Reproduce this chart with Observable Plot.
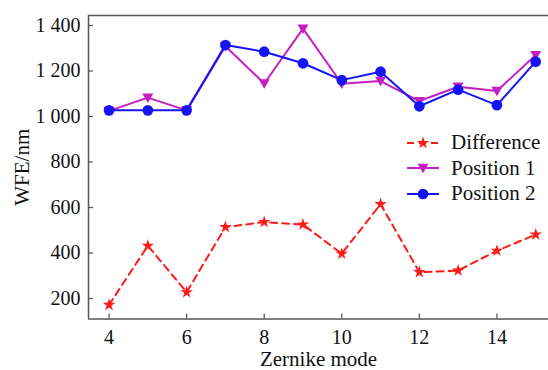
<!DOCTYPE html>
<html>
<head>
<meta charset="utf-8">
<script src="https://cdn.jsdelivr.net/npm/d3@7"></script>
<script src="https://cdn.jsdelivr.net/npm/@observablehq/plot@0.6"></script>
<style>
  html, body { margin: 0; padding: 0; background: #fff; }
  #wrap { position: relative; width: 548px; height: 370px; overflow: hidden; font-family: "Liberation Serif", "Times New Roman", serif; }
  #chart svg { font-family: "Liberation Serif", "Times New Roman", serif !important; font-size: 20px !important; }
  #legend { position: absolute; left: 405px; top: 130px; font-size: 21px; color: #111; }
  #legend .row { display: flex; align-items: center; height: 25.5px; }
  #legend svg { margin-right: 10px; }
</style>
</head>
<body>
<div id="wrap"><div id="chart"></div><div id="legend"></div></div>
<script>
// Zernike modes on the x axis
const modes = [4, 5, 6, 7, 8, 9, 10, 11, 12, 13, 14, 15];
// Wavefront error (nm) per mode
const difference = [172, 432, 228, 514, 536, 525, 397, 615, 316, 323, 410, 481];
const position1  = [1025, 1083, 1027, 1309, 1145, 1386, 1144, 1156, 1068, 1131, 1112, 1270];
const position2  = [1027, 1027, 1027, 1314, 1285, 1234, 1160, 1197, 1045, 1118, 1050, 1241];

const seriesNames = ["Difference", "Position 1", "Position 2"];
const yTicks = [200, 400, 600, 800, 1000, 1200, 1400];
const xTicks = [4, 6, 8, 10, 12, 14];

const xDomain = [3.47, 15.33];
const yDomain = [110, 1444];

const colors = { "Difference": "#ff1a1a", "Position 1": "#c41ec4", "Position 2": "#1414f5" };

// downward-pointing triangle symbol
const triangleDown = {
  draw(context, size) {
    const r = Math.sqrt(size / 1.3);
    context.moveTo(-r, -r * 0.75);
    context.lineTo(r, -r * 0.75);
    context.lineTo(0, r * 0.95);
    context.closePath();
  }
};
const symbols = { "Difference": d3.symbolStar, "Position 1": triangleDown, "Position 2": d3.symbolCircle };
const symbolSizes = { "Difference": 48, "Position 1": 40, "Position 2": 90 };

const rows = [];
seriesNames.forEach((name, s) => {
  const vals = [difference, position1, position2][s];
  modes.forEach((m, i) => rows.push({ series: name, mode: m, value: vals[i] }));
});

const fmt = d => d >= 1000 ? String(d).replace(/(\d)(\d{3})$/, "$1 $2") : String(d);

const axisColor = "#555";
// inward tick lengths in data units
const xTickLen = 5 / (460 / (xDomain[1] - xDomain[0]));
const yTickLen = 5 / (303.5 / (yDomain[1] - yDomain[0]));

const seriesMarks = seriesNames.flatMap(name => {
  const data = rows.filter(r => r.series === name);
  return [
    Plot.line(data, {
      x: "mode", y: "value", stroke: colors[name], strokeWidth: 2,
      strokeDasharray: name === "Difference" ? "7,5" : null
    }),
    Plot.dot(data, {
      x: "mode", y: "value", fill: colors[name], stroke: "none",
      symbol: () => symbols[name], r: Math.sqrt(symbolSizes[name] / Math.PI)
    })
  ];
});

const chart = Plot.plot({
  width: 548,
  height: 370,
  marginLeft: 88,
  marginRight: 0,
  marginTop: 15,
  marginBottom: 51.5,
  style: "font-family: 'Liberation Serif', 'Times New Roman', serif; font-size: 20px; color: #111; background: #fff;",
  x: { domain: xDomain, ticks: xTicks, tickSize: 0, tickPadding: 11, label: null },
  y: { domain: yDomain, ticks: yTicks, tickSize: 0, tickPadding: 8, tickFormat: fmt, label: null },
  symbol: { type: "identity" },
  marks: [
    // frame: top, bottom and left edges
    Plot.ruleY([yDomain[0], yDomain[1]], { stroke: axisColor, strokeWidth: 1.5 }),
    Plot.ruleX([xDomain[0]], { stroke: axisColor, strokeWidth: 1.5 }),
    // inward tick marks
    Plot.ruleY(yTicks, { y: d => d, x1: xDomain[0], x2: xDomain[0] + xTickLen, stroke: axisColor, strokeWidth: 1.2 }),
    Plot.ruleX(xTicks, { x: d => d, y1: yDomain[0], y2: yDomain[0] + yTickLen, stroke: axisColor, strokeWidth: 1.2 }),
    ...seriesMarks,
    Plot.text(["Zernike mode"], { text: d => d, frameAnchor: "bottom", lineAnchor: "middle", textAnchor: "middle", dy: 40, fontSize: 21, fill: "#111" }),
    Plot.text(["WFE/nm"], { text: d => d, frameAnchor: "left", lineAnchor: "middle", textAnchor: "middle", dx: -66, rotate: -90, fontSize: 21, fill: "#111" })
  ]
});
document.getElementById("chart").appendChild(chart);

// legend
const legend = d3.select("#legend");
seriesNames.forEach(name => {
  const row = legend.append("div").attr("class", "row");
  const svg = row.append("svg").attr("width", 36).attr("height", 14);
  svg.append("line").attr("x1", 2).attr("x2", 34).attr("y1", 7).attr("y2", 7)
    .attr("stroke", colors[name]).attr("stroke-width", 2)
    .attr("stroke-dasharray", name === "Difference" ? "7,5" : null);
  svg.append("path").attr("transform", "translate(18,7)")
    .attr("d", d3.symbol(symbols[name], symbolSizes[name])())
    .attr("fill", colors[name]);
  row.append("span").text(name);
});
</script>
</body>
</html>
